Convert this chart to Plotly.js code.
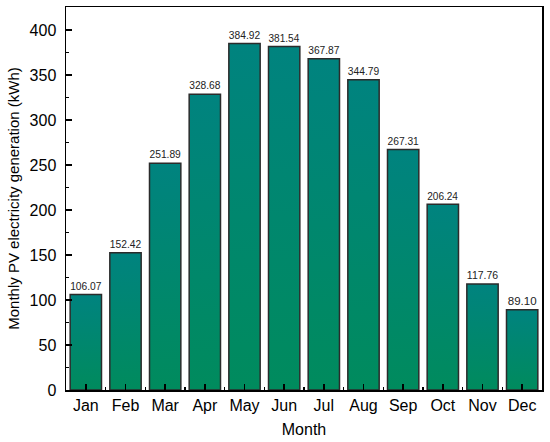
<!DOCTYPE html>
<html>
<head>
<meta charset="utf-8">
<script src="https://cdn.plot.ly/plotly-3.0.1.min.js"></script>
<style>html,body{margin:0;padding:0;background:#fff;}#chart{width:550px;height:442px;}</style>
</head>
<body>
<div id="chart"></div>
<script>
var months = ['Jan','Feb','Mar','Apr','May','Jun','Jul','Aug','Sep','Oct','Nov','Dec'];
var generation = [106.07,152.42,251.89,328.68,384.92,381.54,367.87,344.79,267.31,206.24,117.76,89.10];
var idx = months.map(function(m,i){return i;});
var bounds = idx.slice(0,-1).map(function(i){return i+0.5;});

var trace = {
  type:'bar', x: idx, y: generation,
  marker:{color:'#00876f', line:{color:'#2b2b2b', width:1.5}},
  width:0.79,
  texttemplate:'%{y:.2f}', textposition:'outside',
  textfont:{family:'Liberation Sans, Arial, sans-serif', size:11.5, color:'#222'},
  cliponaxis:false, hoverinfo:'none'
};
var font = {family:'Liberation Sans, Arial, sans-serif', size:16, color:'#000'};
var tfont = {family:'Liberation Sans, Arial, sans-serif', size:15, color:'#000'};
var layout = {
  width:550, height:442,
  margin:{l:66, r:8, t:7, b:52},
  paper_bgcolor:'#fff', plot_bgcolor:'#fff',
  font: font, showlegend:false,
  xaxis:{
    range:[-0.5,11.5], tickmode:'array', tickvals: idx, ticktext: months,
    ticks:'inside', ticklen:6, tickwidth:1.5, tickcolor:'#000',
    showline:true, mirror:true, linecolor:'#000', linewidth:1.5,
    showgrid:false, zeroline:false, tickfont:font,
    minor:{tickmode:'array', tickvals:bounds, ticks:'inside', ticklen:3, tickwidth:1.5, tickcolor:'#000', showgrid:false},
    title:{text:'Month', font:font, standoff:11}
  },
  yaxis:{
    range:[0,425.5], dtick:50, tick0:0,
    ticks:'inside', ticklen:6, tickwidth:1.5, tickcolor:'#000',
    showline:true, mirror:true, linecolor:'#000', linewidth:1.5,
    showgrid:false, zeroline:false, tickfont:font, ticklabelstandoff:5,
    minor:{dtick:25, ticks:'inside', ticklen:3, tickwidth:1.5, tickcolor:'#000', showgrid:false},
    title:{text:'Monthly PV electricity generation (kWh)', font:tfont, standoff:6}
  },
  bargap:0.2
};
Plotly.newPlot('chart',[trace],layout,{displayModeBar:false, staticPlot:true}).then(function(gd){
  var svg = gd.querySelector('svg.main-svg');
  var ns = 'http://www.w3.org/2000/svg';
  var defs = svg.querySelector('defs') || svg.insertBefore(document.createElementNS(ns,'defs'), svg.firstChild);
  var g = document.createElementNS(ns,'linearGradient');
  g.setAttribute('id','barGrad'); g.setAttribute('x1','0'); g.setAttribute('y1','0'); g.setAttribute('x2','0'); g.setAttribute('y2','1');
  [['0','#00837f'],['1','#008b5d']].forEach(function(s){
    var st = document.createElementNS(ns,'stop');
    st.setAttribute('offset',s[0]); st.setAttribute('stop-color',s[1]);
    g.appendChild(st);
  });
  defs.appendChild(g);
  gd.querySelectorAll('.bars .point path').forEach(function(p){ p.style.fill='url(#barGrad)'; });
});
</script>
</body>
</html>
